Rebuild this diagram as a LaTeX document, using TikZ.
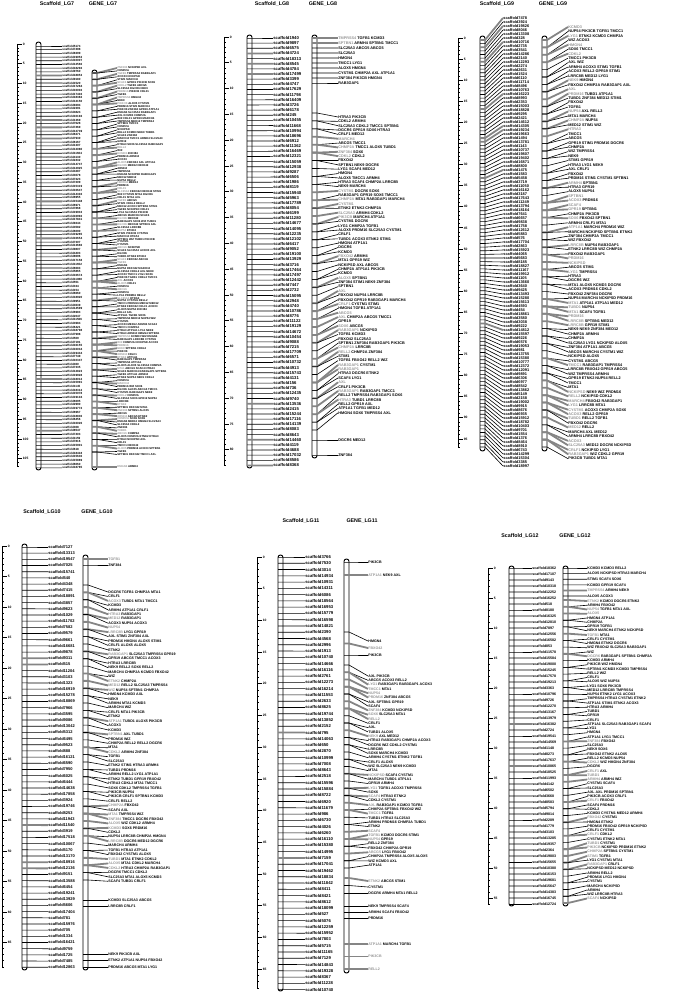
\documentclass[tikz,border=0pt]{standalone}
\usepackage{fontspec}
\setmainfont{Liberation Sans}
\usepackage{xcolor}
\definecolor{linkgray}{HTML}{858585}
\definecolor{labelgray}{HTML}{959595}
\usetikzlibrary{calc,positioning}

\tikzset{
  link/.style={line width=0.6pt, black},
  glink/.style={line width=1.8pt, linkgray},
  chrbar/.style={draw, line width=0.95pt, rounded corners=2.4pt, fill=white},
  rulerline/.style={line width=0.8pt},
  maptitle/.style={font=\fontsize{5.3}{6}\selectfont\bfseries, inner sep=0pt},
  ticklab/.style={font=\fontsize{3.3}{3.3}\selectfont\bfseries, inner sep=1pt, anchor=west},
  maplab/.style={font=\fontsize{\lfs}{\lfs}\selectfont\bfseries, inner sep=0.2pt, anchor=west},
}

% gene symbols used for the labels
\newcommand{\gsym}[1]{\ifcase#1 ATP1A1\or LRRC8B\or MED12\or ABCG5\or TUBD1\or MTA1\or ALOX5\or SPTBN1\or SCAF4\or FBXO42\or DGCR6\or ETNK2\or PRDM16\or STIM1\or AXL\or TGFB1\or CDKL2\or PIK3CB\or HTRA3\or ACOX3\or MARCH4\or NCKIPSD\or TMPRSS4\or RELL2\or CYSTM1\or HMGN4\or KCMD3\or SLC25A3\or NEK9\or WIZ\or NUP54\or CHMP2A\or SOX6\or ZNF384\or RAB3GAP1\or LYG1\or TMCC1\or ARMH4\or GPR19\or CRLF1\fi}

\newcommand{\genetext}{%
  \ifnum\isgray=1{\color{labelgray}\gsym{\tka}}\else\gsym{\tka}\fi%
  \ifnum\nk>1 {} \gsym{\tkb}\fi%
  \ifnum\nk>2 {} \gsym{\tkc}\fi%
  \ifnum\nk>3 {} \gsym{\tkd}\fi}

% panel id, bar left, bar right, label x, font size
\newcommand{\setpanel}[5]{\def\pid{#1}\def\barL{#2}\def\barR{#3}\def\labX{#4}\def\lfs{#5}}

% id, x, top, px per cM, length in cM
\newcommand{\chrruler}[5]{%
  \draw[rulerline] (#2,#3) -- (#2,{#3+#5*#4});
  \foreach \u in {0,...,#5}{
    \pgfmathtruncatemacro\ur{mod(\u,5)}
    \ifnum\ur=0
      \draw[rulerline] (#2,{#3+\u*#4}) -- ++(4.5,0) node[ticklab] (r#1-\u) {\u};
    \else
      \draw[rulerline] (#2,{#3+\u*#4}) -- ++(2.2,0);
    \fi
  }}

% left, right, top, bottom
\newcommand{\chrbar}[4]{\draw[chrbar] (#1,#3) rectangle (#2,#4);}

% first label y, spacing, count, first bar y, last bar y
\newcommand{\scafcol}[5]{%
  \foreach \i in {1,...,#3}{
    \pgfmathsetmacro\yl{#1+(\i-1)*#2}
    \pgfmathsetmacro\yb{#4+(\i-1)/(#3-1)*(#5-#4)}
    \pgfmathrandominteger{\scn}{101}{19987}
    \pgfmathtruncatemacro\isgray{rnd<0.05}
    \coordinate (sl\pid-\i) at (\barL,\yb);
    \coordinate (sr\pid-\i) at (\barR,\yb);
    \node[maplab] (s\pid-\i) at (\labX,\yl) {scaffold\scn};
    \ifnum\isgray=1
      \draw[glink] (sl\pid-\i) -- (sr\pid-\i) -- (s\pid-\i.west);
    \else
      \draw[link] (sl\pid-\i) -- (sr\pid-\i) -- (s\pid-\i.west);
    \fi
  }}

% cluster, first label y, spacing, count, first bar y, last bar y, bar steps
\newcommand{\genecol}[7]{%
  \foreach \i in {1,...,#4}{
    \pgfmathsetmacro\yl{#2+(\i-1)*#3}
    \pgfmathsetmacro\yb{#5+round((\i-1)/max(#4-1,1)*#7)/#7*(#6-#5)}
    \pgfmathrandominteger{\nk}{1}{4}
    \pgfmathrandominteger{\tka}{0}{39}
    \pgfmathrandominteger{\tkb}{0}{39}
    \pgfmathrandominteger{\tkc}{0}{39}
    \pgfmathrandominteger{\tkd}{0}{39}
    \pgfmathtruncatemacro\isgray{rnd<0.28}
    \coordinate (gl\pid#1-\i) at (\barL,\yb);
    \coordinate (gr\pid#1-\i) at (\barR,\yb);
    \node[maplab] (g\pid#1-\i) at (\labX,\yl) {\genetext};
    \ifnum\isgray=1
      \draw[glink] (gl\pid#1-\i) -- (gr\pid#1-\i) -- (g\pid#1-\i.west);
    \else
      \draw[link] (gl\pid#1-\i) -- (gr\pid#1-\i) -- (g\pid#1-\i.west);
    \fi
  }}

\begin{document}
\begin{tikzpicture}[x=1pt, y=-1pt]
  \useasboundingbox (0,0) rectangle (677,992);
  \pgfmathsetseed{2718}

  % LG7
  \node[maptitle] (t7s) at (57,4) {Scaffold\_LG7};
  \node[maptitle] (t7g) at (103,4) {GENE\_LG7};
  \chrruler{7}{17}{44}{3.95}{107}
  \chrbar{36}{41}{42}{470}
  \chrbar{92}{97}{70}{470}
  \setpanel{7}{36}{41}{62}{3.0}
  \scafcol{46}{3.7}{115}{46}{467.8}
  \setpanel{7}{92}{97}{117}{2.75}
  \genecol{a}{68}{2.95}{132}{73}{452}{60}
  \genecol{b}{467}{1}{1}{467}{467}{1}

  % LG8
  \node[maptitle] (t8s) at (272,4) {Scaffold\_LG8};
  \node[maptitle] (t8g) at (323,4) {GENE\_LG8};
  \chrruler{8}{224}{37}{5.16}{83}
  \chrbar{247}{252}{35}{468}
  \chrbar{312}{317}{35}{458}
  \setpanel{8}{247}{252}{273}{4.2}
  \scafcol{38}{5.15}{84}{38}{465.5}
  \setpanel{8}{312}{317}{338}{3.8}
  \genecol{a}{38}{5.0}{10}{38}{83}{9}
  \genecol{b}{117}{4.35}{69}{113}{430}{40}
  \genecol{c}{440}{15}{2}{440}{455}{1}

  % LG9
  \node[maptitle] (t9s) at (497,4) {Scaffold\_LG9};
  \node[maptitle] (t9g) at (553,4) {GENE\_LG9};
  \chrruler{9}{458}{38}{4.22}{97}
  \chrbar{480}{485}{36}{451}
  \chrbar{542}{547}{36}{451}
  \setpanel{9}{480}{485}{503}{3.9}
  \scafcol{18}{4.0}{113}{40}{447}
  \setpanel{9}{542}{547}{568}{3.8}
  \genecol{a}{27}{4.45}{98}{40}{447}{55}

  % LG10
  \node[maptitle] (t10s) at (42,512) {Scaffold\_LG10};
  \node[maptitle] (t10g) at (97,512) {GENE\_LG10};
  \chrruler{10}{2}{546}{6.1}{69}
  \chrbar{22}{27}{544}{970}
  \chrbar{83}{88}{555}{970}
  \setpanel{10}{22}{27}{48}{4.0}
  \scafcol{547}{6.18}{69}{547}{967.2}
  \setpanel{10}{83}{88}{108}{3.6}
  \genecol{a}{559}{6}{2}{559}{565}{1}
  \genecol{b}{592}{4.45}{66}{585}{880}{40}
  \genecol{c}{900}{6}{2}{900}{906}{1}
  \genecol{d}{954}{6.5}{3}{954}{967}{2}

  % LG11
  \node[maptitle] (t11s) at (301,521) {Scaffold\_LG11};
  \node[maptitle] (t11g) at (362,521) {GENE\_LG11};
  \chrruler{11}{257}{557}{6.34}{68}
  \chrbar{278}{283}{555}{991}
  \chrbar{344}{349}{559}{973}
  \setpanel{11}{278}{283}{305}{4.2}
  \scafcol{557}{6.27}{70}{557}{989.6}
  \setpanel{11}{344}{349}{368}{3.6}
  \genecol{a}{562}{13}{2}{562}{575}{1}
  \genecol{b}{641}{7}{3}{632}{655}{2}
  \genecol{c}{676}{4.3}{45}{665}{868}{28}
  \genecol{d}{881}{6}{3}{878}{893}{2}
  \genecol{e}{906}{6}{3}{906}{918}{2}
  \genecol{f}{944}{12.5}{3}{944}{969}{2}

  % LG12
  \node[maptitle] (t12s) at (520,536) {Scaffold\_LG12};
  \node[maptitle] (t12g) at (575,536) {GENE\_LG12};
  \chrruler{12}{488}{568}{6.0}{56}
  \chrbar{509}{514}{566}{906}
  \chrbar{563}{568}{566}{906}
  \setpanel{12}{509}{514}{532}{3.6}
  \scafcol{568}{6.0}{57}{568}{904}
  \setpanel{12}{563}{568}{587}{3.6}
  \genecol{a}{568}{5.6}{6}{568}{596}{5}
  \genecol{b}{601}{4.25}{71}{600}{903}{45}
\end{tikzpicture}
\end{document}
